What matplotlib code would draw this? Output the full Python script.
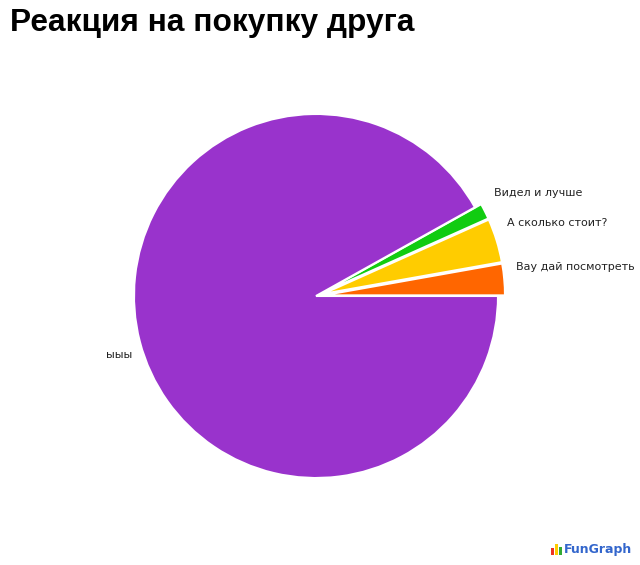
import matplotlib
matplotlib.use("Agg")
import matplotlib.pyplot as plt
from matplotlib.patches import Rectangle

# Data
labels = ["Вау дай посмотреть", "А сколько стоит?", "Видел и лучше", "ыыы"]
values = [2.8, 3.9, 1.4, 91.9]
colors = ["#FF6600", "#FFCC00", "#11CC11", "#9933CC"]
title = "Реакция на покупку друга"

# Label anchor positions (pixel layout, y from top)
label_pos = [(516, 267, "left"), (507, 223, "left"), (494, 193, "left"), (132, 355, "right")]

W, H = 640, 565
fig = plt.figure(figsize=(W / 100, H / 100), dpi=100)
ax = fig.add_axes([0, 0, 1, 1])

cx, cy, r = 316, H - 296, 182
explode = [7, 7, 7, 0]  # offsets in pixel-units (pie explode is absolute)
ax.pie(values, colors=colors, explode=explode, startangle=0, counterclock=True,
       radius=r, center=(cx, cy), frame=True,
       wedgeprops=dict(edgecolor="white", linewidth=1.5))
ax.set_xlim(0, W)
ax.set_ylim(0, H)
ax.set_aspect("equal")
ax.axis("off")

for lab, (x, y, ha) in zip(labels, label_pos):
    ax.text(x, H - y, lab, ha=ha, va="center", fontsize=8,
            family="DejaVu Sans", color="#222222")

fig.text(10 / W, 1 - 23 / H, title, ha="left", va="center", fontsize=22.8,
         fontweight="bold", family="Liberation Sans", color="#000000")

# FunGraph logo
bars = [(551, 7, "#EE3322"), (555, 11, "#FFCC00"), (559, 8, "#33AA33")]
for x, h, c in bars:
    ax.add_patch(Rectangle((x, H - 555), 3, h, color=c, lw=0))
ax.text(564, H - 549, "FunGraph", ha="left", va="center", fontsize=9,
        fontweight="bold", color="#3366CC", family="DejaVu Sans")

fig.savefig("out.png", dpi=100, facecolor="white")
